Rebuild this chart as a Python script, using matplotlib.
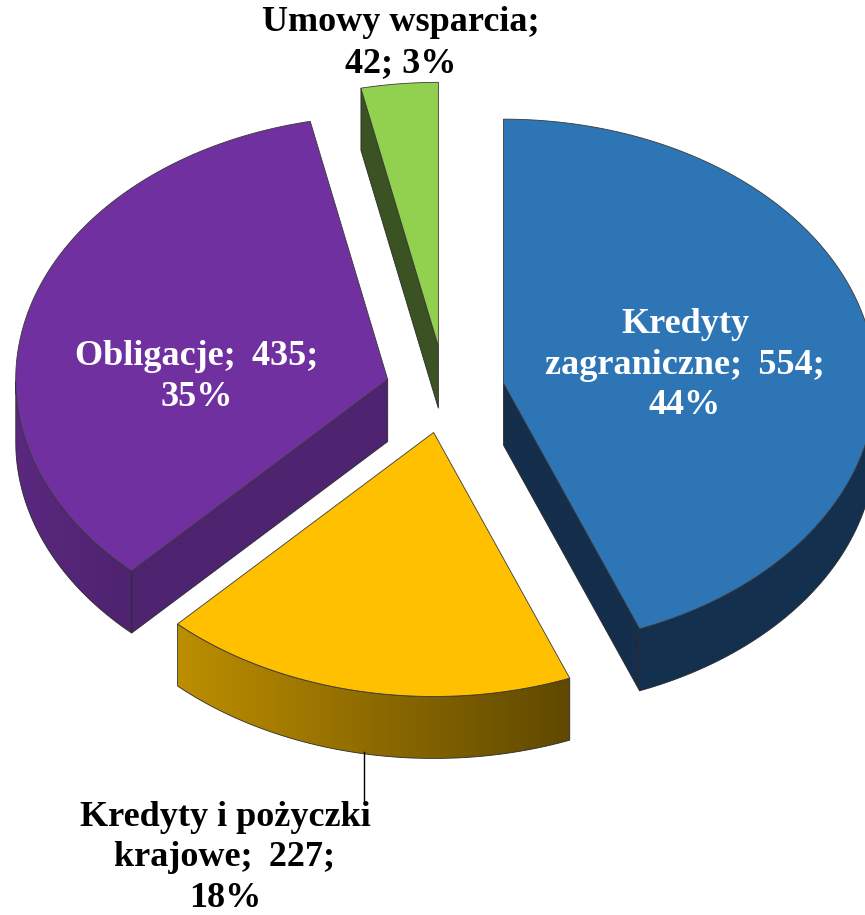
import numpy as np
import matplotlib
matplotlib.use('Agg')
import matplotlib.pyplot as plt
from matplotlib.colors import LinearSegmentedColormap
from matplotlib.patches import Polygon

names = ['Kredyty\nzagraniczne', 'Kredyty i pożyczki\nkrajowe', 'Obligacje', 'Umowy wsparcia']
values = [554, 227, 435, 42]
top_colors = ['#2E75B6', '#FFC000', '#7030A0', '#92D050']
side_left = ['#14304F', '#BC8E00', '#5A287F', '#3B5323']
side_right = ['#14304F', '#5F4800', '#4E236F', '#3B5323']
cut_colors = ['#142E4C', '#6B5000', '#4E236F', '#3B5323']
explode = [0.16, 0.16, 0.16, 0.17]
label_xy = [(685, 365), (225, 858), (197, 377), (401, 43)]
label_colors = ['white', 'black', 'white', 'black']

cx, cy = 445, 391
a, b = 372, 264
depth = 62
edge = '#2A2A2A'


def side_face(ax, xs, ys, c1, c2):
    # extrude the line xs, ys downwards and fill it with a left to right gradient
    px = np.r_[xs, xs[::-1]]
    py = np.r_[ys, ys[::-1] + depth]
    poly = Polygon(np.c_[px, py], closed=True, facecolor='none', edgecolor=edge, lw=0.6, zorder=2.5)
    ax.add_patch(poly)
    cmap = LinearSegmentedColormap.from_list('side', [c1, c2])
    im = ax.imshow(np.linspace(0, 1, 256)[None, :], cmap=cmap, aspect='auto', zorder=2,
                   extent=(px.min(), px.max(), py.max(), py.min()))
    im.set_clip_path(poly)


def run():
    fig = plt.figure(figsize=(8.65, 9.15), dpi=100)
    ax = fig.add_axes([0, 0, 1, 1])

    total = sum(values)
    start = 0.0
    for i, v in enumerate(values):
        end = start + v / total * 2 * np.pi
        mid = (start + end) / 2
        ox = cx + explode[i] * a * np.sin(mid)
        oy = cy - explode[i] * b * np.cos(mid)

        t = np.linspace(start, end, 300)
        xs = ox + a * np.sin(t)
        ys = oy - b * np.cos(t)

        # cut faces, only the ones turned towards the viewer
        if np.sin(start) < -1e-6:
            side_face(ax, np.array([ox, xs[0]]), np.array([oy, ys[0]]), cut_colors[i], cut_colors[i])
        if np.sin(end) > 1e-6:
            side_face(ax, np.array([ox, xs[-1]]), np.array([oy, ys[-1]]), cut_colors[i], cut_colors[i])

        # rim, front half only
        front = np.cos(t) < 0
        if front.any():
            side_face(ax, xs[front], ys[front], side_left[i], side_right[i])

        ax.fill(np.r_[ox, xs], np.r_[oy, ys], facecolor=top_colors[i],
                edgecolor='#3A3A3A', lw=0.6, zorder=3)

        start = end

    # leader line of the yellow label
    ax.plot([364, 364], [752, 802], color='black', lw=1, zorder=4)

    for i, v in enumerate(values):
        pct = round(100 * v / total)
        if i == 3:
            s = f'{names[i]};\n{v}; {pct}%'
        else:
            s = f'{names[i]};\u2009 {v};\n{pct}%'
        ax.text(label_xy[i][0], label_xy[i][1], s, color=label_colors[i], ha='center', va='center',
                family='Liberation Serif', weight='bold', fontsize=26, linespacing=1.3, zorder=5)

    ax.set_xlim(0, 865)
    ax.set_ylim(915, 0)
    ax.axis('off')

    plt.savefig('out.png', dpi=100)
    plt.close()


if __name__ == '__main__':
    run()
